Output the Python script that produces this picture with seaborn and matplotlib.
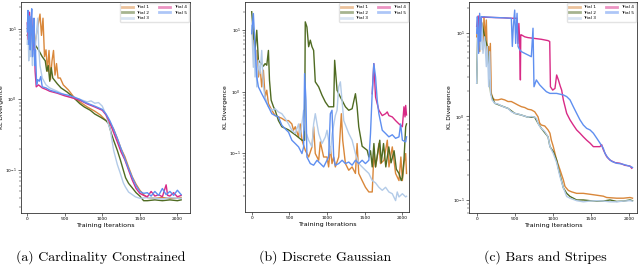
import matplotlib
matplotlib.use("Agg")
import matplotlib.pyplot as plt
from matplotlib.lines import Line2D
import seaborn as sns
import pandas as pd

TRIALS = ["Trial 1", "Trial 2", "Trial 3", "Trial 4", "Trial 5"]
COLORS = {"Trial 1": "#d9873a", "Trial 2": "#4f6b22", "Trial 3": "#b3cbe8",
          "Trial 4": "#d82a86", "Trial 5": "#5f8ff0"}
TITLES = ["(a) Cardinality Constrained", "(b) Discrete Gaussian", "(c) Bars and Stripes"]
X_LABEL = "Training Iterations"
Y_LABEL = "KL Divergence"
X_TICKS = [0, 500, 1000, 1500, 2000]

# ---------------- Panel (a): Cardinality Constrained ----------------
A_T1_X = [0, 50, 100, 150, 170, 190, 210, 230, 250, 270, 290, 310, 330, 350, 370, 390, 410, 440, 480, 550, 620, 700, 800, 900, 975, 1050, 1110, 1150, 1200, 1250, 1300, 1350, 1400, 1450, 1500, 1550, 1600, 1700, 1800, 1900, 2000, 2050]
A_T1_Y = [10, 8, 6, 12, 16, 8, 14, 4, 5, 2.5, 4.9, 1.9, 3.5, 4.9, 2.2, 3.2, 2.0, 2.0, 1.6, 1.35, 1.08, 0.92, 0.78, 0.68, 0.6, 0.5, 0.45, 0.38, 0.28, 0.2, 0.155, 0.11, 0.08, 0.063, 0.052, 0.045, 0.041, 0.04, 0.041, 0.04, 0.04, 0.041]
A_T2_X = [0, 50, 100, 150, 200, 240, 260, 280, 300, 320, 340, 400, 450, 530, 600, 700, 760, 840, 900, 975, 1050, 1085, 1120, 1150, 1200, 1240, 1280, 1310, 1350, 1400, 1450, 1500, 1550, 1600, 1700, 1800, 1900, 2000, 2050]
A_T2_Y = [8, 12, 6, 5, 4, 3.5, 2.5, 3.0, 1.8, 2.8, 2.0, 1.66, 1.45, 1.27, 1.1, 0.87, 0.78, 0.7, 0.62, 0.56, 0.5, 0.45, 0.33, 0.265, 0.19, 0.14, 0.1, 0.078, 0.065, 0.056, 0.048, 0.043, 0.037, 0.037, 0.038, 0.037, 0.038, 0.037, 0.038]
A_T3_X = [0, 10, 20, 30, 40, 50, 60, 70, 80, 100, 120, 140, 155, 170, 200, 250, 300, 400, 500, 600, 700, 800, 850, 900, 950, 1000, 1050, 1080, 1107, 1130, 1151, 1200, 1240, 1280, 1307, 1350, 1400, 1440, 1500, 1600, 1700, 1800, 1900, 2000, 2050]
A_T3_Y = [6, 12, 3.5, 8, 4, 10, 5, 3, 6, 4, 8, 14, 5, 3, 2, 1.6, 1.45, 1.3, 1.15, 1.05, 1.0, 0.92, 0.95, 0.88, 0.9, 0.8, 0.6, 0.45, 0.37, 0.26, 0.19, 0.12, 0.09, 0.066, 0.058, 0.049, 0.045, 0.042, 0.04, 0.041, 0.04, 0.039, 0.041, 0.04, 0.04]
A_T4_X = [0, 15, 30, 45, 60, 75, 90, 105, 120, 150, 200, 250, 300, 400, 500, 600, 700, 800, 900, 1000, 1050, 1100, 1150, 1200, 1250, 1300, 1350, 1400, 1450, 1500, 1550, 1600, 1650, 1700, 1750, 1800, 1850, 1870, 1900, 1950, 2000, 2050]
A_T4_Y = [12, 7, 17, 8, 14, 5, 10, 2.5, 1.5, 1.6, 1.45, 1.38, 1.3, 1.22, 1.12, 1.05, 0.97, 0.86, 0.78, 0.7, 0.6, 0.47, 0.34, 0.25, 0.18, 0.14, 0.1, 0.072, 0.055, 0.047, 0.044, 0.042, 0.05, 0.043, 0.045, 0.042, 0.062, 0.044, 0.043, 0.048, 0.042, 0.044]
A_T5_X = [0, 10, 20, 30, 40, 50, 60, 70, 80, 90, 100, 110, 125, 140, 160, 180, 200, 250, 300, 350, 400, 450, 500, 550, 600, 650, 700, 750, 800, 850, 900, 950, 1000, 1050, 1100, 1150, 1200, 1250, 1300, 1350, 1400, 1450, 1500, 1550, 1600, 1650, 1700, 1750, 1800, 1850, 1900, 1950, 2000, 2050]
A_T5_Y = [9, 18, 6, 15, 5, 12, 19, 4, 9, 14, 3, 5, 1.6, 1.9, 1.8, 2.1, 1.5, 1.45, 1.35, 1.3, 1.25, 1.2, 1.17, 1.14, 1.1, 1.05, 1.0, 0.93, 0.88, 0.84, 0.8, 0.76, 0.72, 0.62, 0.5, 0.38, 0.28, 0.2, 0.145, 0.105, 0.078, 0.06, 0.05, 0.047, 0.048, 0.043, 0.05, 0.044, 0.055, 0.045, 0.05, 0.044, 0.052, 0.045]

# ---------------- Panel (b): Discrete Gaussian ----------------
B_T1_X = [0, 22, 44, 67, 89, 111, 133, 155, 178, 200, 222, 267, 311, 355, 400, 444, 489, 533, 555, 578, 622, 644, 667, 711, 756, 800, 822, 844, 889, 911, 955, 1000, 1021, 1044, 1066, 1088, 1110, 1155, 1190, 1208, 1244, 1288, 1333, 1377, 1399, 1421, 1466, 1510, 1555, 1600, 1622, 1644, 1666, 1688, 1710, 1755, 1800, 1822, 1866, 1910, 1955, 1980, 2000, 2021, 2044, 2055]
B_T1_Y = [10, 6.9, 3.25, 4.7, 1.74, 2.5, 1.2, 2.24, 0.82, 1.06, 0.64, 0.5, 0.41, 0.39, 0.37, 0.34, 0.34, 0.3, 0.237, 0.27, 0.185, 0.3, 0.163, 0.112, 0.087, 0.127, 0.27, 0.099, 0.077, 0.153, 0.087, 0.087, 0.06, 0.127, 0.068, 0.087, 0.06, 0.087, 0.44, 0.163, 0.068, 0.053, 0.06, 0.047, 0.144, 0.047, 0.036, 0.028, 0.0235, 0.0235, 0.1, 0.06, 0.087, 0.144, 0.068, 0.077, 0.163, 0.06, 0.127, 0.047, 0.036, 0.087, 0.036, 0.068, 0.099, 0.047]
B_T2_X = [0, 22, 44, 67, 89, 110, 133, 155, 178, 200, 222, 236, 258, 289, 311, 355, 400, 489, 578, 667, 702, 711, 733, 756, 778, 800, 822, 844, 889, 933, 978, 1022, 1044, 1088, 1101, 1133, 1177, 1244, 1288, 1333, 1377, 1399, 1421, 1466, 1533, 1555, 1577, 1600, 1622, 1644, 1666, 1700, 1720, 1750, 1780, 1820, 1850, 1890, 1920, 1955, 1985, 2000, 2021, 2044, 2055]
B_T2_Y = [20, 8.8, 4.7, 10, 3.25, 3.0, 2.87, 2.6, 2.87, 2.7, 4.7, 1.54, 0.73, 0.57, 0.5, 0.34, 0.27, 0.24, 0.2, 0.163, 0.163, 13.7, 11.3, 5.4, 6.9, 5.4, 4.7, 1.45, 1.2, 0.88, 0.68, 0.57, 0.57, 0.57, 3.25, 1.06, 0.82, 0.57, 0.5, 0.53, 0.93, 0.57, 0.27, 0.13, 0.112, 0.087, 0.11, 0.06, 0.144, 0.06, 0.09, 0.163, 0.07, 0.144, 0.06, 0.127, 0.07, 0.11, 0.055, 0.047, 0.036, 0.04, 0.077, 0.27, 0.3]
B_T3_X = [0, 11, 22, 33, 44, 56, 67, 89, 111, 133, 155, 178, 222, 267, 311, 355, 400, 444, 489, 533, 578, 622, 644, 689, 711, 756, 800, 822, 844, 889, 933, 978, 1000, 1021, 1044, 1066, 1110, 1133, 1155, 1177, 1200, 1222, 1288, 1333, 1377, 1421, 1466, 1510, 1555, 1600, 1644, 1688, 1733, 1777, 1821, 1866, 1910, 1932, 1955, 2000, 2044, 2055]
B_T3_Y = [12, 5.4, 2.5, 6.9, 1.74, 4.7, 1.2, 3.25, 1.97, 4.7, 1.2, 0.82, 0.57, 0.5, 0.53, 0.47, 0.44, 0.37, 0.3, 0.237, 0.21, 0.3, 0.185, 0.5, 0.237, 0.163, 0.127, 0.3, 0.44, 0.21, 0.144, 0.185, 0.237, 0.163, 0.099, 0.2, 0.41, 0.5, 1.2, 1.45, 0.7, 0.34, 0.21, 0.163, 0.099, 0.068, 0.06, 0.053, 0.047, 0.036, 0.033, 0.028, 0.025, 0.028, 0.0235, 0.022, 0.017, 0.0235, 0.0195, 0.022, 0.0195, 0.02]
B_T4_X = [1600, 1621, 1644, 1688, 1733, 1777, 1799, 1821, 1866, 1910, 1955, 2000, 2021, 2035, 2044, 2055]
B_T4_Y = [0.93, 2.87, 0.82, 0.5, 0.41, 0.44, 0.47, 0.41, 0.39, 0.34, 0.3, 0.27, 0.57, 0.39, 0.6, 0.42]
B_T5_X = [0, 22, 44, 67, 89, 133, 178, 222, 267, 311, 355, 400, 444, 489, 533, 578, 622, 667, 689, 702, 720, 733, 778, 822, 867, 911, 955, 977, 1021, 1044, 1066, 1088, 1110, 1155, 1200, 1244, 1288, 1333, 1377, 1421, 1466, 1510, 1555, 1577, 1599, 1621, 1644, 1666, 1688, 1733, 1777, 1821, 1866, 1910, 1955, 1977, 2000, 2044, 2055]
B_T5_Y = [8.8, 18.7, 5.4, 1.74, 1.2, 0.93, 0.73, 0.57, 0.44, 0.41, 0.39, 0.285, 0.25, 0.22, 0.163, 0.144, 0.127, 0.099, 0.127, 1.97, 0.73, 0.087, 0.068, 0.064, 0.077, 0.068, 0.06, 0.068, 0.087, 0.44, 0.5, 0.087, 0.064, 0.068, 0.077, 0.068, 0.072, 0.064, 0.077, 0.068, 0.077, 0.068, 0.077, 0.21, 0.93, 2.87, 1.74, 0.73, 0.44, 0.237, 0.21, 0.185, 0.2, 0.175, 0.185, 0.3, 0.163, 0.153, 0.185]

# ---------------- Panel (c): Bars and Stripes ----------------
C_T1_X = [0, 20, 40, 61, 83, 96, 114, 127, 140, 158, 171, 180, 193, 215, 237, 281, 325, 368, 412, 456, 500, 544, 588, 632, 675, 719, 763, 807, 829, 851, 895, 939, 964, 982, 1008, 1052, 1096, 1140, 1162, 1206, 1250, 1315, 1403, 1491, 1579, 1666, 1710, 1842, 1930, 2017, 2050]
C_T1_Y = [9, 14, 6, 14.3, 6.3, 15.7, 8.2, 14.3, 5.2, 6.9, 2.74, 7.5, 1.89, 1.65, 1.58, 1.58, 1.62, 1.58, 1.51, 1.51, 1.44, 1.37, 1.31, 1.28, 1.22, 1.2, 1.14, 0.99, 0.83, 0.79, 0.77, 0.69, 0.63, 0.52, 0.435, 0.3, 0.23, 0.174, 0.145, 0.13, 0.125, 0.12, 0.12, 0.117, 0.114, 0.111, 0.107, 0.105, 0.105, 0.107, 0.105]
C_T2_X = [0, 17, 39, 70, 105, 140, 184, 237, 325, 412, 500, 588, 675, 763, 807, 851, 939, 964, 1008, 1052, 1074, 1096, 1140, 1184, 1228, 1271, 1315, 1403, 1491, 1579, 1666, 1754, 1842, 1930, 2017, 2050]
C_T2_Y = [2.5, 14.3, 9.9, 13.1, 9.0, 6.9, 1.89, 1.44, 1.34, 1.25, 1.09, 1.04, 0.98, 0.98, 0.83, 0.72, 0.57, 0.435, 0.38, 0.3, 0.24, 0.2, 0.14, 0.12, 0.11, 0.105, 0.1, 0.1, 0.098, 0.097, 0.097, 0.1, 0.096, 0.097, 0.1, 0.098]
C_T3_X = [0, 9, 17, 39, 53, 70, 83, 105, 127, 140, 158, 171, 184, 202, 237, 281, 325, 368, 412, 456, 500, 544, 588, 632, 675, 719, 763, 785, 807, 829, 851, 895, 939, 964, 1008, 1052, 1096, 1140, 1184, 1228, 1315, 1403, 1491, 1579, 1666, 1754, 1842, 1930, 2017, 2050]
C_T3_Y = [2.5, 5.7, 14.3, 9.9, 6.3, 13.1, 5.7, 9.0, 3.95, 6.9, 2.27, 5.98, 1.89, 1.58, 1.44, 1.41, 1.34, 1.29, 1.25, 1.14, 1.09, 1.07, 1.04, 1.01, 0.98, 1.0, 0.98, 0.95, 0.83, 0.76, 0.72, 0.66, 0.57, 0.435, 0.36, 0.28, 0.19, 0.14, 0.11, 0.105, 0.098, 0.095, 0.097, 0.098, 0.097, 0.095, 0.095, 0.097, 0.098, 0.097]
C_T4_X = [0, 20, 40, 61, 150, 250, 350, 456, 500, 530, 544, 555, 566, 575, 580, 588, 632, 675, 763, 851, 939, 961, 970, 1000, 1030, 1052, 1075, 1100, 1118, 1140, 1184, 1228, 1271, 1315, 1359, 1403, 1447, 1491, 1535, 1579, 1622, 1644, 1666, 1710, 1754, 1820, 1886, 1951, 2017, 2040]
C_T4_Y = [12, 16, 8, 15.5, 15.4, 15.3, 15.2, 15.0, 15.0, 15.0, 7.5, 13, 7.9, 2.74, 9.5, 9.5, 9.0, 8.8, 8.6, 8.4, 8.1, 7.9, 2.27, 2.07, 2.17, 3.14, 2.74, 2.3, 2.07, 1.58, 1.09, 0.91, 0.79, 0.69, 0.63, 0.57, 0.52, 0.48, 0.435, 0.435, 0.435, 0.46, 0.4, 0.33, 0.3, 0.28, 0.275, 0.26, 0.255, 0.24]
C_T5_X = [0, 9, 26, 39, 50, 61, 150, 250, 350, 456, 469, 482, 500, 513, 531, 544, 566, 588, 632, 675, 719, 741, 754, 785, 829, 873, 917, 964, 1052, 1140, 1184, 1228, 1271, 1315, 1359, 1403, 1447, 1491, 1535, 1579, 1622, 1666, 1688, 1732, 1776, 1842, 1908, 1973, 2030, 2050]
C_T5_Y = [9.9, 15.7, 5.7, 17.2, 8, 15.7, 15.5, 15.3, 15.2, 15.0, 6.9, 11.9, 18.8, 7.5, 17.2, 6.9, 6.3, 5.98, 5.7, 5.45, 5.2, 11.4, 2.27, 2.74, 2.39, 2.17, 1.98, 1.89, 1.89, 1.81, 1.73, 1.58, 1.31, 1.09, 0.91, 0.79, 0.72, 0.69, 0.63, 0.55, 0.48, 0.415, 0.36, 0.315, 0.29, 0.275, 0.27, 0.26, 0.25, 0.245]

PANELS = [
    {"series": [(A_T1_X, A_T1_Y), (A_T2_X, A_T2_Y), (A_T3_X, A_T3_Y), (A_T4_X, A_T4_Y), (A_T5_X, A_T5_Y)],
     "xlim": (-83, 2168), "ylim": (0.0248, 23.7),
     "rect_px": (21, 2, 190, 213), "title_x": 101},
    {"series": [(B_T1_X, B_T1_Y), (B_T2_X, B_T2_Y), (B_T3_X, B_T3_Y), (B_T4_X, B_T4_Y), (B_T5_X, B_T5_Y)],
     "xlim": (-89, 2088), "ylim": (0.0111, 28.8),
     "rect_px": (245, 2, 409, 212), "title_x": 325},
    {"series": [(C_T1_X, C_T1_Y), (C_T2_X, C_T2_Y), (C_T3_X, C_T3_Y), (C_T4_X, C_T4_Y), (C_T5_X, C_T5_Y)],
     "xlim": (-101, 2109), "ylim": (0.0698, 23.5),
     "rect_px": (469, 2, 637, 213), "title_x": 545},
]

W, H = 640, 267
fig = plt.figure(figsize=(W / 100, H / 100), dpi=100)

for i, panel in enumerate(PANELS):
    x0, y0, x1, y1 = panel["rect_px"]
    ax = fig.add_axes([x0 / W, 1 - y1 / H, (x1 - x0) / W, (y1 - y0) / H])
    rows = []
    for name, (xs, ys) in zip(TRIALS, panel["series"]):
        for x, y in zip(xs, ys):
            rows.append({"iter": x, "kl": y, "trial": name})
    df = pd.DataFrame(rows)
    sns.lineplot(data=df, x="iter", y="kl", hue="trial", hue_order=TRIALS,
                 palette=COLORS, estimator=None, sort=False, linewidth=1.0,
                 legend=False, ax=ax)
    ax.set_yscale("log")
    ax.set_xlim(*panel["xlim"])
    ax.set_ylim(*panel["ylim"])
    ax.set_xticks(X_TICKS)
    ax.tick_params(axis="both", which="major", labelsize=3.2, length=2, width=0.4, pad=1)
    ax.tick_params(axis="both", which="minor", length=1.2, width=0.3)
    ax.set_xlabel(X_LABEL, fontsize=4.6, labelpad=1)
    ax.set_ylabel(Y_LABEL, fontsize=4.3, labelpad=1)
    for sp in ax.spines.values():
        sp.set_linewidth(0.6)
        sp.set_color("#333333")
    handles = [Line2D([0], [0], color=COLORS[t], lw=2.0, alpha=0.5) for t in TRIALS]
    ax.legend(handles, TRIALS, loc="upper right", ncol=2, fontsize=3.2,
              frameon=True, handlelength=2.5, columnspacing=2.2,
              borderaxespad=0.3, labelspacing=0.3, framealpha=0.8,
              edgecolor="#dddddd")
    fig.text(panel["title_x"] / W, 10 / H, TITLES[i], family="cmr10",
             fontsize=10, ha="center", va="center")

fig.savefig("out.png", dpi=100)
